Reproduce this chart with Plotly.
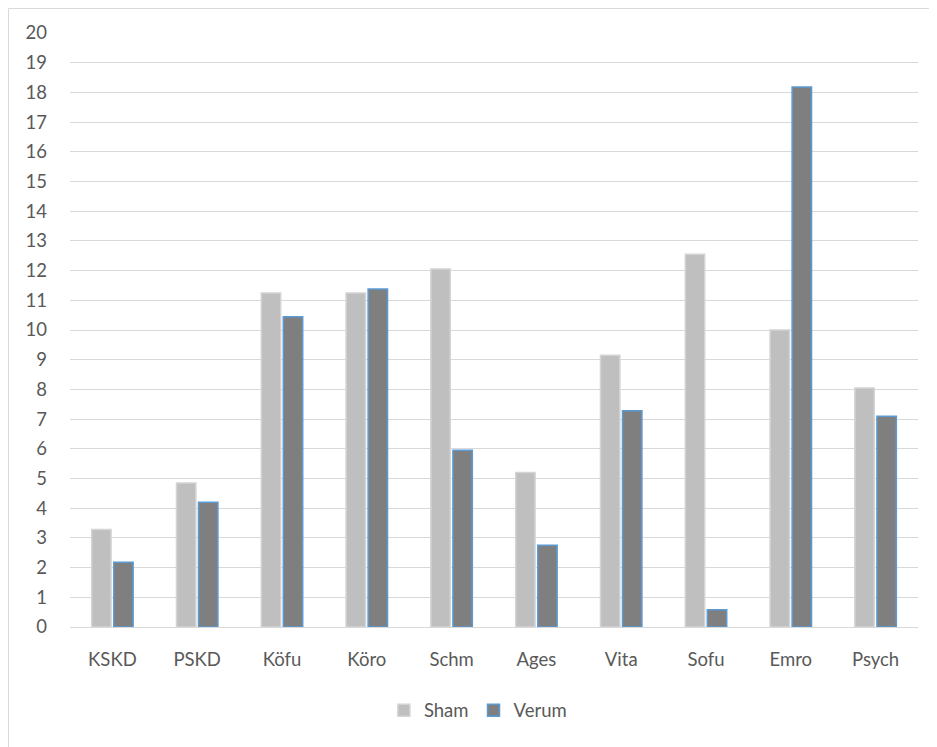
import plotly.graph_objects as go

categories = ["KSKD", "PSKD", "Köfu", "Köro", "Schm", "Ages", "Vita", "Sofu", "Emro", "Psych"]
sham = [3.28, 4.85, 11.25, 11.25, 12.05, 5.2, 9.15, 12.55, 10.0, 8.05]
verum = [2.18, 4.2, 10.45, 11.38, 5.95, 2.75, 7.28, 0.58, 18.18, 7.1]
y_ticks = list(range(0, 21))

FONT = "Lato, 'Open Sans', sans-serif"
TXT = "#595959"
FS = 18.5

fig = go.Figure()
fig.add_trace(go.Bar(name="Sham", x=categories, y=sham,
                     marker=dict(color="#BFBFBF", line=dict(color="#D4D4D4", width=1.5))))
fig.add_trace(go.Bar(name="Verum", x=categories, y=verum,
                     marker=dict(color="#7F7F7F", line=dict(color="#5B9BD5", width=1.5))))

fig.update_layout(
    width=937, height=747,
    margin=dict(l=62, r=27, t=25, b=128),
    paper_bgcolor="white", plot_bgcolor="white",
    barmode="group", bargap=0.48, bargroupgap=0.12,
    font=dict(family=FONT, size=FS, color=TXT),
    showlegend=True,
    legend=dict(orientation="h", x=0.481, xanchor="center", y=-0.141, yanchor="middle",
                font=dict(family=FONT, size=FS, color=TXT), itemwidth=30,
                traceorder="normal"),
    xaxis=dict(showgrid=False, showline=True, linecolor="#D9D9D9", linewidth=1,
               ticks="", ticklabelstandoff=16, tickfont=dict(size=FS, color=TXT)),
    yaxis=dict(range=[0, 20], tickvals=y_ticks, showgrid=True, gridcolor="#D9D9D9",
               gridwidth=1, zeroline=True, zerolinecolor="#D9D9D9", zerolinewidth=1,
               showline=False, ticks="", ticklabelstandoff=22,
               tickfont=dict(size=FS, color=TXT)),
    shapes=[dict(type="rect", xref="paper", yref="paper",
                 x0=-0.0725, x1=1.05, y0=-0.25, y1=1.0413,
                 line=dict(color="#D9D9D9", width=1), fillcolor="rgba(0,0,0,0)",
                 layer="below")],
)

fig.write_html("out.html")
